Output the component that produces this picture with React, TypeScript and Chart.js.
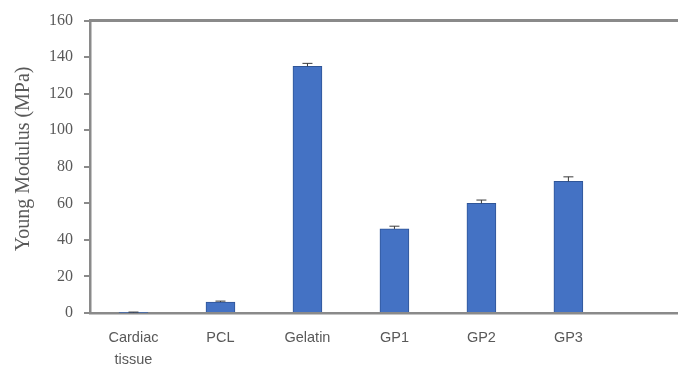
import React, { useEffect, useRef } from "react";
import { Chart, registerables } from "chart.js";

Chart.register(...registerables);

// Samples and their measured Young's modulus (MPa) with standard deviation
const categories: string[][] = [["Cardiac", "tissue"], ["PCL"], ["Gelatin"], ["GP1"], ["GP2"], ["GP3"]];
const modulus: number[] = [0.3, 6, 135, 46, 60, 72];
const deviation: number[] = [0.2, 0.5, 1.6, 1.5, 1.8, 2.5];
const yTicks: number[] = [0, 20, 40, 60, 80, 100, 120, 140, 160];
const yTitle = "Young Modulus (MPa)";

const AXIS_GRAY = "#8a8a8a";
const TEXT_GRAY = "#595959";
const SERIF = "'Liberation Serif', 'Times New Roman', serif";

const errorBars = {
  id: "errorBars",
  afterDatasetsDraw(chart: any) {
    const meta = chart.getDatasetMeta(0);
    const y = chart.scales.y;
    const ctx = chart.ctx;
    ctx.save();
    ctx.strokeStyle = "#3a3a3a";
    ctx.lineWidth = 1;
    meta.data.forEach((bar: any, i: number) => {
      const top = y.getPixelForValue(modulus[i] + deviation[i]);
      const base = y.getPixelForValue(modulus[i]);
      ctx.beginPath();
      ctx.moveTo(bar.x, base);
      ctx.lineTo(bar.x, top);
      ctx.moveTo(bar.x - 5, top);
      ctx.lineTo(bar.x + 5, top);
      ctx.stroke();
    });
    ctx.restore();
  },
};

// Top frame line plus the rotated y-axis title, sitting a little above the plot's middle
const frameAndTitle = {
  id: "frameAndTitle",
  afterDraw(chart: any) {
    const { ctx, chartArea } = chart;
    ctx.save();
    ctx.strokeStyle = AXIS_GRAY;
    ctx.lineWidth = 3;
    ctx.beginPath();
    ctx.moveTo(chartArea.left, chartArea.top);
    ctx.lineTo(chartArea.right, chartArea.top);
    ctx.stroke();

    const cy = (chartArea.top + chartArea.bottom) / 2 - 8;
    ctx.translate(24, cy);
    ctx.rotate(-Math.PI / 2);
    ctx.fillStyle = TEXT_GRAY;
    ctx.font = `20px ${SERIF}`;
    ctx.textAlign = "center";
    ctx.textBaseline = "middle";
    ctx.fillText(yTitle, 0, 0);
    ctx.restore();
  },
};

export default function App() {
  const ref = useRef<HTMLCanvasElement>(null);

  useEffect(() => {
    document.body.style.margin = "0";
    const chart = new Chart(ref.current!, {
      type: "bar",
      data: {
        datasets: [
          {
            data: modulus.map((v, i) => ({ x: i, y: v })),
            backgroundColor: "#4472C4",
            borderColor: "#2F5597",
            borderWidth: 1,
            barThickness: 29,
          },
        ],
      },
      plugins: [errorBars, frameAndTitle],
      options: {
        responsive: false,
        animation: false,
        layout: { padding: { top: 16, left: 0, right: 0, bottom: 0 } },
        plugins: { legend: { display: false }, tooltip: { enabled: false } },
        scales: {
          x: {
            type: "linear",
            offset: false,
            min: -0.5,
            max: 6.26,
            grid: { display: false },
            border: { display: true, color: AXIS_GRAY, width: 2.5 },
            afterBuildTicks: (scale: any) => {
              scale.ticks = categories.map((_, i) => ({ value: i }));
            },
            afterFit: (scale: any) => {
              scale.height = 56;
            },
            ticks: {
              autoSkip: false,
              maxRotation: 0,
              padding: 6,
              color: TEXT_GRAY,
              font: { family: "'Liberation Sans', Arial, sans-serif", size: 14.5, lineHeight: 1.5 },
              callback: (v: any) => categories[v] ?? "",
            },
          },
          y: {
            min: 0,
            max: 160,
            afterBuildTicks: (scale: any) => {
              scale.ticks = yTicks.map((v) => ({ value: v }));
            },
            afterFit: (scale: any) => {
              scale.width = 90;
            },
            grid: {
              drawOnChartArea: false,
              drawTicks: true,
              tickLength: 6,
              color: AXIS_GRAY,
              lineWidth: 2,
            },
            border: { display: true, color: AXIS_GRAY, width: 2.5 },
            ticks: {
              padding: 11,
              color: TEXT_GRAY,
              font: { family: SERIF, size: 16 },
            },
            title: { display: false },
          },
        },
      },
    });
    return () => chart.destroy();
  }, []);

  return (
    <div style={{ width: 678, height: 369, background: "#fff" }}>
      <canvas ref={ref} width={678} height={369} />
    </div>
  );
}
